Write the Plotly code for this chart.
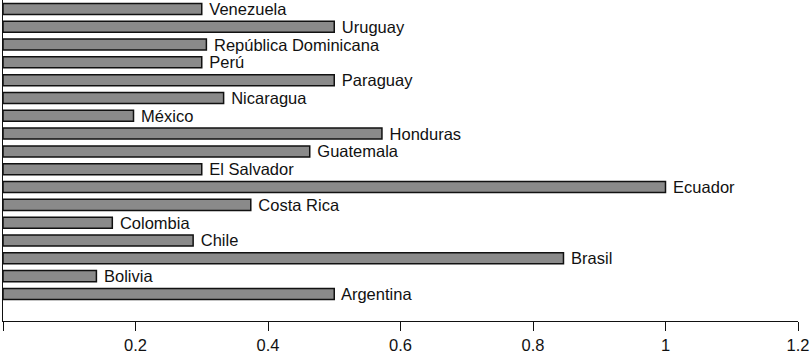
import plotly.graph_objects as go

countries = ["Argentina", "Bolivia", "Brasil", "Chile", "Colombia", "Costa Rica",
             "Ecuador", "El Salvador", "Guatemala", "Honduras", "México", "Nicaragua",
             "Paraguay", "Perú", "República Dominicana", "Uruguay", "Venezuela"]
values = [0.5, 0.141, 0.846, 0.287, 0.165, 0.374,
          1.0, 0.30, 0.463, 0.572, 0.197, 0.333,
          0.5, 0.30, 0.307, 0.5, 0.30]
tick_vals = [0, 0.2, 0.4, 0.6, 0.8, 1.0, 1.2]
tick_text = ["0", "0.2", "0.4", "0.6", "0.8", "1", "1.2"]

fig = go.Figure()
fig.add_trace(go.Bar(
    y=countries, x=values, orientation="h",
    marker=dict(color="#8a8a8a", line=dict(color="#111111", width=1.5)),
    text=[" " + c for c in countries], textposition="outside",
    textfont=dict(family="Liberation Sans, Arial, sans-serif", size=16.5, color="#111111"),
    cliponaxis=False, constraintext="none", hoverinfo="skip",
))

fig.update_layout(
    width=810, height=354,
    margin=dict(l=3, r=12, t=0, b=33, autoexpand=False),
    paper_bgcolor="white", plot_bgcolor="white",
    showlegend=False, bargap=0.38,
    font=dict(family="Liberation Sans, Arial, sans-serif", size=16, color="#111111"),
)
fig.update_xaxes(
    range=[0, 1.2], tickvals=tick_vals, ticktext=tick_text,
    showgrid=False, zeroline=False, showline=True, linecolor="#111111", linewidth=1.4,
    ticks="outside", ticklen=9, tickwidth=1.4, tickcolor="#111111",
    tickfont=dict(size=16.5), automargin=False,
)
fig.update_yaxes(
    type="category", categoryorder="array", categoryarray=countries,
    range=[-1.52, 16.5], showticklabels=False, ticks="",
    showgrid=False, zeroline=False, showline=True, linecolor="#111111", linewidth=1.4,
    automargin=False,
)

fig.write_html("out.html", config={"displayModeBar": False},
               post_script="document.body.style.margin='0';document.body.style.overflow='hidden';")
